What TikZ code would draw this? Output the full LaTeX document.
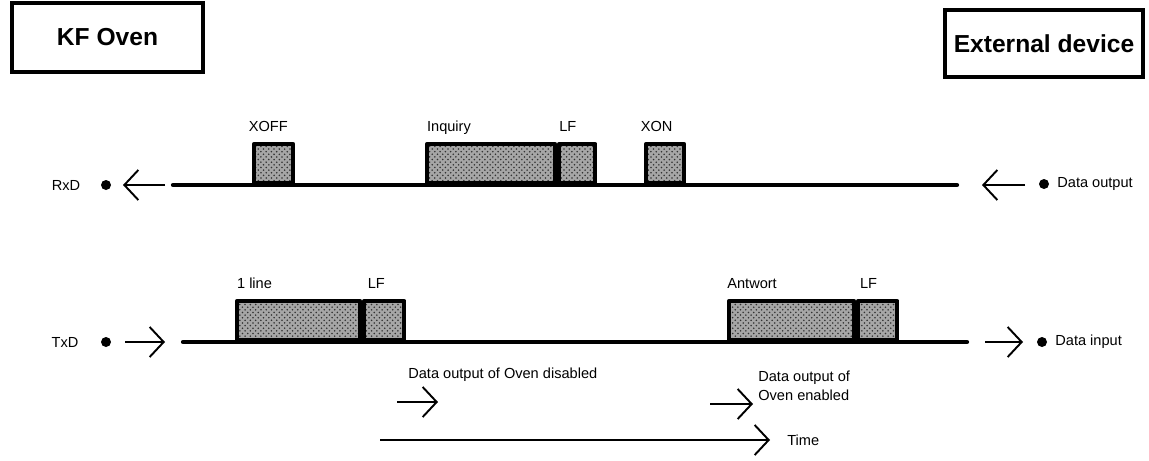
\documentclass[tikz,border=0pt]{standalone}
\usepackage{fontspec}
\setmainfont{Liberation Sans}
\usepackage{tikz}
\usetikzlibrary{arrows.meta,positioning,patterns}
\definecolor{stipple}{RGB}{150,150,150}

\begin{document}
\begin{tikzpicture}[x=0.02cm, y=-0.02cm,
    headbox/.style={draw, line width=1.8pt, inner sep=0pt, font=\fontsize{14}{16}\selectfont\bfseries},
    sigline/.style={line width=2.4pt, line cap=round},
    pulse/.style={draw, line width=2.4pt, line join=round, inner sep=0pt, minimum height=0.78cm, anchor=south west,
        preaction={fill=stipple!85}, pattern=crosshatch dots, pattern color=black!80},
    lbl/.style={font=\fontsize{8.3}{11}\selectfont, inner sep=0pt},
    dirarrow/.style={-{Straight Barb[length=2.8mm, width=6mm]}, line width=1.1pt},
    pin/.style={circle, fill, inner sep=0pt, minimum size=0.2cm}]
            \useasboundingbox (0,0) rectangle (1149,460);

            % Header boxes
            \node[headbox, minimum width=3.82cm, minimum height=1.38cm] (oven) at (107.5,37.5) {KF Oven};
            \node[headbox, minimum width=3.96cm, minimum height=1.34cm] (device) at (1044,43.5) {External device};

            % RxD line
            \coordinate (rxdL) at (173,185);
            \coordinate (rxdR) at (957,185);
            \draw[sigline] (rxdL) -- (rxdR);
            \node[lbl] (rxd) at (66,185) {RxD};
            \node[pin] (rxddot) at (106,185) {};
            \coordinate (rxdin) at (165,185);
            \coordinate (rxdtip) at (123,185);
            \draw[dirarrow] (rxdin) -- (rxdtip);
            \coordinate (dout) at (1025,185);
            \coordinate (douttip) at (982,185);
            \draw[dirarrow] (dout) -- (douttip);
            \node[pin] (doutdot) at (1044,184) {};
            \node[lbl, anchor=west] (douttext) at (1057,184) {Data output};

            % RxD pulses
            \node[pulse, minimum width=0.78cm] (xoff) at (252,185) {};
            \node[pulse, minimum width=2.56cm] (inquiry) at (425,185) {};
            \node[pulse, minimum width=0.72cm] (rxlf) at (inquiry.south east) {};
            \node[pulse, minimum width=0.76cm] (xon) at (644,185) {};
            \node[lbl, anchor=base west] (xofftext) at ([xshift=-2pt, yshift=0.2cm]xoff.north west) {XOFF};
            \node[lbl, anchor=base west] (inquirytext) at ([xshift=1pt, yshift=0.2cm]inquiry.north west) {Inquiry};
            \node[lbl, anchor=base west] (rxlftext) at ([xshift=1pt, yshift=0.2cm]rxlf.north west) {LF};
            \node[lbl, anchor=base west] (xontext) at ([xshift=-2pt, yshift=0.2cm]xon.north west) {XON};

            % TxD line
            \coordinate (txdL) at (183,342);
            \coordinate (txdR) at (967,342);
            \draw[sigline] (txdL) -- (txdR);
            \node[lbl] (txd) at (65,342) {TxD};
            \node[pin] (txddot) at (106,342) {};
            \coordinate (txdout) at (125,342);
            \coordinate (txdtip) at (165,342);
            \draw[dirarrow] (txdout) -- (txdtip);
            \coordinate (din) at (985,342);
            \coordinate (dintip) at (1023,342);
            \draw[dirarrow] (din) -- (dintip);
            \node[pin] (dindot) at (1042,342) {};
            \node[lbl, anchor=west] (dintext) at (1055,342) {Data input};

            % TxD pulses
            \node[pulse, minimum width=2.46cm] (oneline) at (235,342) {};
            \node[pulse, minimum width=0.8cm] (txlf) at (oneline.south east) {};
            \node[pulse, minimum width=2.5cm] (antwort) at (727,342) {};
            \node[pulse, minimum width=0.78cm] (anslf) at (antwort.south east) {};
            \node[lbl, anchor=base west] (onelinetext) at ([xshift=1pt, yshift=0.2cm]oneline.north west) {1 line};
            \node[lbl, anchor=base west] (txlftext) at ([xshift=3pt, yshift=0.2cm]txlf.north west) {LF};
            \node[lbl, anchor=base west] (antworttext) at ([xshift=0pt, yshift=0.2cm]antwort.north west) {Antwort};
            \node[lbl, anchor=base west] (anslftext) at ([xshift=2pt, yshift=0.2cm]anslf.north west) {LF};

            % Oven output notes
            \node[lbl, anchor=west] (disabled) at (408,375) {Data output of Oven disabled};
            \coordinate (disA) at (397,402);
            \coordinate (disB) at (438,402);
            \draw[dirarrow] (disA) -- (disB);
            \node[lbl, anchor=west, align=left] (enabled) at (758,386) {Data output of\\Oven enabled};
            \coordinate (enA) at (710,404);
            \coordinate (enB) at (753,404);
            \draw[dirarrow] (enA) -- (enB);

            % Time axis
            \coordinate (timeA) at (380,440);
            \coordinate (timeB) at (770,440);
            \draw[dirarrow] (timeA) -- (timeB);
            \node[lbl, anchor=west] (time) at (787,440) {Time};
        \end{tikzpicture}
\end{document}
